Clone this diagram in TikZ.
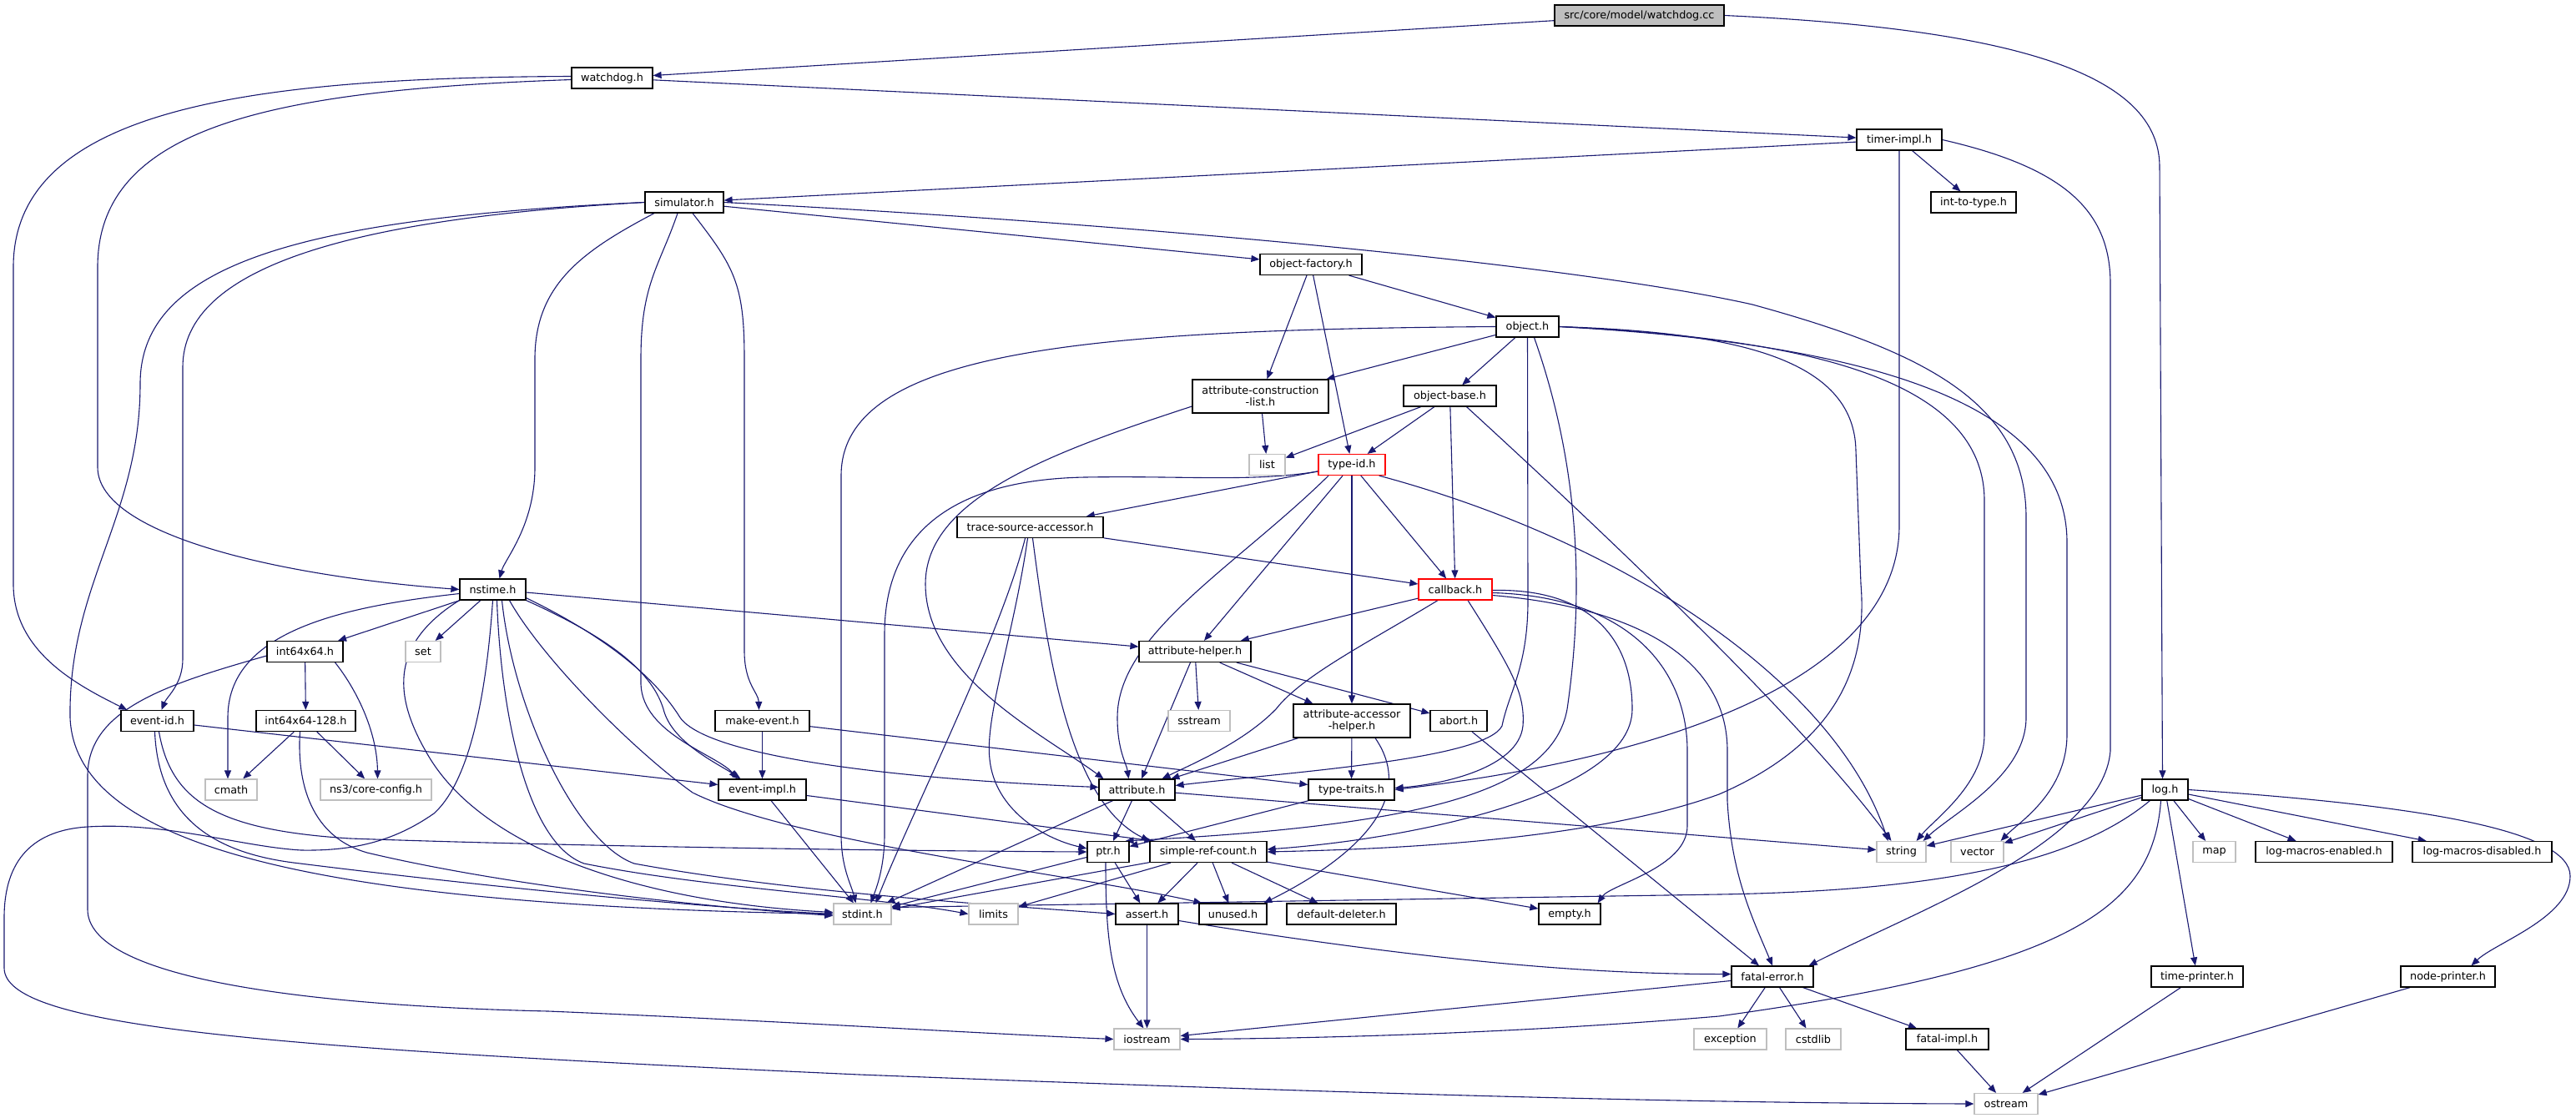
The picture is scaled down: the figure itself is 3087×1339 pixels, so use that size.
\documentclass[tikz,border=0pt]{standalone}
\usepackage{fontspec}
\setmainfont{DejaVu Sans}
\usetikzlibrary{arrows.meta}
\definecolor{edgec}{HTML}{191970}
\definecolor{grayb}{HTML}{BFBFBF}
\definecolor{rootf}{HTML}{BFBFBF}
\pgfdeclarelayer{bg}
\pgfdeclarelayer{paper}
\pgfsetlayers{paper,bg,main}
\tikzset{
 nb/.style={draw=black, line width=1.2pt, fill=white, rectangle, minimum height=25pt, inner xsep=2pt, inner ysep=0pt, font=\fontsize{12.8}{14}\selectfont, align=center},
 sysb/.style={nb, draw=grayb},
 redb/.style={nb, draw=red},
 rootb/.style={nb, fill=rootf},
 edg/.style={draw=edgec, line width=1.1pt, -{Triangle[length=10pt,width=8pt]}},
}
\begin{document}
\begin{tikzpicture}[x=1pt,y=-1pt]
\useasboundingbox (0,0) rectangle (3087,1339);
\begin{pgfonlayer}{paper}
\fill[white] (0,0) rectangle (3087,1339);
\end{pgfonlayer}
% nodes
\node[rootb, minimum width=203pt] (wcc) at (1964.5,18.5) {src/core/model/watchdog.cc};
\node[nb, minimum width=97pt] (wdh) at (733.5,93.5) {watchdog.h};
\node[nb, minimum width=102pt] (timer) at (2276,167.5) {timer-impl.h};
\node[nb, minimum width=102pt] (i2t) at (2365,242.5) {int-to-type.h};
\node[nb, minimum width=94pt] (sim) at (820,242.5) {simulator.h};
\node[nb, minimum width=122pt] (ofac) at (1571,317) {object-factory.h};
\node[nb, minimum width=75pt] (obj) at (1830.5,391.5) {object.h};
\node[nb, minimum width=163pt, minimum height=40pt] (acl) at (1510.5,475) {attribute-construction\\-list.h};
\node[nb, minimum width=111pt] (obase) at (1737.5,474.5) {object-base.h};
\node[sysb, minimum width=43pt] (list) at (1518.5,557) {list};
\node[redb, minimum width=80pt] (tid) at (1620,557) {type-id.h};
\node[nb, minimum width=175pt] (tsa) at (1234.5,632) {trace-source-accessor.h};
\node[nb, minimum width=79pt] (nst) at (590.5,706.5) {nstime.h};
\node[redb, minimum width=88pt] (cb) at (1744,706.5) {callback.h};
\node[nb, minimum width=91pt] (i64) at (365.5,781) {int64x64.h};
\node[sysb, minimum width=42pt] (set) at (507,781) {set};
\node[nb, minimum width=134pt] (ahelp) at (1432,781) {attribute-helper.h};
\node[nb, minimum width=87pt] (eid) at (188.5,864) {event-id.h};
\node[nb, minimum width=119pt] (i128) at (366.5,864) {int64x64-128.h};
\node[nb, minimum width=113pt] (mev) at (913.5,864) {make-event.h};
\node[sysb, minimum width=74pt] (sstr) at (1437,864) {sstream};
\node[nb, minimum width=140pt, minimum height=40pt] (aah) at (1620,864) {attribute-accessor\\-helper.h};
\node[nb, minimum width=68pt] (abrt) at (1748,864) {abort.h};
\node[sysb, minimum width=62pt] (cmath) at (277,946.5) {cmath};
\node[sysb, minimum width=133pt] (ccfg) at (450.5,946.5) {ns3/core-config.h};
\node[nb, minimum width=105pt] (eimp) at (913.5,946.5) {event-impl.h};
\node[nb, minimum width=91pt] (attr) at (1362.5,946.5) {attribute.h};
\node[nb, minimum width=103pt] (ttr) at (1619.5,946.5) {type-traits.h};
\node[nb, minimum width=55pt] (log) at (2594.5,946.5) {log.h};
\node[nb, minimum width=50pt] (ptr) at (1328,1021) {ptr.h};
\node[nb, minimum width=140pt] (src) at (1448,1021) {simple-ref-count.h};
\node[sysb, minimum width=59pt] (str) at (2278.5,1021) {string};
\node[sysb, minimum width=63pt] (vec) at (2369.5,1021) {vector};
\node[sysb, minimum width=51pt] (map) at (2653.5,1021) {map};
\node[nb, minimum width=164pt] (lme) at (2785,1021) {log-macros-enabled.h};
\node[nb, minimum width=167pt] (lmd) at (2974.5,1021) {log-macros-disabled.h};
\node[sysb, minimum width=69pt] (sint) at (1033.5,1095.5) {stdint.h};
\node[sysb, minimum width=59pt] (lim) at (1190.5,1095.5) {limits};
\node[nb, minimum width=75pt] (asrt) at (1374.5,1095.5) {assert.h};
\node[nb, minimum width=81pt] (unu) at (1477.5,1095.5) {unused.h};
\node[nb, minimum width=131pt] (ddel) at (1607.5,1095.5) {default-deleter.h};
\node[nb, minimum width=74pt] (emp) at (1881,1095.5) {empty.h};
\node[nb, minimum width=98pt] (ferr) at (2124,1170.5) {fatal-error.h};
\node[nb, minimum width=110pt] (tpr) at (2633,1170.5) {time-printer.h};
\node[nb, minimum width=113pt] (npr) at (2933.5,1170.5) {node-printer.h};
\node[sysb, minimum width=79pt] (ios) at (1374.5,1245.5) {iostream};
\node[sysb, minimum width=87pt] (exc) at (2073.5,1245.5) {exception};
\node[sysb, minimum width=66pt] (cstd) at (2173,1245.5) {cstdlib};
\node[nb, minimum width=99pt] (fimp) at (2333.5,1245.5) {fatal-impl.h};
\node[sysb, minimum width=76pt] (ost) at (2404,1323) {ostream};
% edges
\begin{pgfonlayer}{bg}
\draw[edg] (wcc) -- (wdh);
\draw[edg] (wcc.east) .. controls (2420,35) and (2588,90) .. (2588,200) -- ([xshift=-3pt]log.north);
\draw[edg] ([yshift=2pt]wdh.west) .. controls (300,93) and (16,130) .. (16,320) -- (16,700) .. controls (16,780) and (90,820) .. ([xshift=8pt]eid.north west);
\draw[edg] ([yshift=-2pt]wdh.west) .. controls (330,108) and (117,150) .. (117,320) -- (117,560) .. controls (117,640) and (330,690) .. (nst.west);
\draw[edg] (wdh) -- (timer);
\draw[edg] (timer) -- (sim);
\draw[edg] (timer) -- (i2t);
\draw[edg] (timer.south) -- (2276,630) .. controls (2276,790) and (2060,900) .. (ttr.east);
\draw[edg] (timer.east) .. controls (2470,200) and (2529,250) .. (2529,340) -- (2529,900) .. controls (2520,1010) and (2300,1090) .. ([xshift=-6pt]ferr.north east);
\draw[edg] (sim.west) .. controls (420,262) and (219,320) .. (219,440) -- (219,790) .. controls (219,820) and (200,835) .. ([xshift=5pt]eid.north);
\draw[edg] (sim.west) .. controls (350,262) and (168,320) .. (168,460) .. controls (168,620) and (82,700) .. (84,860) .. controls (90,1020) and (400,1085) .. (sint.west);
\draw[edg] ([xshift=-36pt]sim.south) .. controls (700,300) and (641,340) .. (641,430) -- (641,560) .. controls (641,630) and (605,670) .. ([xshift=8pt]nst.north);
\draw[edg] ([xshift=-8pt]sim.south) .. controls (790,320) and (768,340) .. (768,430) -- (768,820) .. controls (770,880) and (860,905) .. ([xshift=-30pt]eimp.north);
\draw[edg] ([xshift=10pt]sim.south) .. controls (880,320) and (892,340) .. (892,430) -- (892,780) .. controls (892,820) and (909,830) .. ([xshift=-4pt]mev.north);
\draw[edg] (sim) -- (ofac);
\draw[edg] (sim.east) .. controls (1400,270) and (1900,320) .. (2100,365) .. controls (2300,420) and (2428,480) .. (2428,620) -- (2428,860) .. controls (2428,930) and (2340,975) .. ([xshift=-4pt]str.north east);
\draw[edg] (ofac) -- (acl);
\draw[edg] (ofac) -- (tid);
\draw[edg] (ofac) -- (obj);
\draw[edg] (obj) -- (acl);
\draw[edg] (obj) -- (obase);
\draw[edg] (obj.west) .. controls (1300,395) and (1008,420) .. (1008,570) -- (1008,1000) .. controls (1008,1040) and (1020,1060) .. ([xshift=-8pt]sint.north);
\draw[edg] (obj.south) -- (1831,720) .. controls (1831,800) and (1808,830) .. (1800,870) .. controls (1780,910) and (1550,925) .. ([yshift=5pt]attr.east);
\draw[edg] ([xshift=8pt]obj.south) .. controls (1890,550) and (1900,700) .. (1878,850) .. controls (1860,950) and (1700,990) .. ([xshift=-5pt]ptr.north east);
\draw[edg] (obj.east) .. controls (2080,398) and (2222,430) .. (2224,540) -- (2230,700) .. controls (2240,820) and (2180,900) .. (2060,952) .. controls (1900,1010) and (1650,1018) .. (src.east);
\draw[edg] (obj.east) .. controls (2150,405) and (2378,450) .. (2378,600) -- (2378,880) .. controls (2378,940) and (2320,980) .. ([xshift=-12pt]str.north east);
\draw[edg] (obj.east) .. controls (2200,410) and (2477,470) .. (2477,650) -- (2477,880) .. controls (2477,950) and (2420,985) .. ([xshift=-4pt]vec.north east);
\draw[edg] (acl) -- (list);
\draw[edg] ([yshift=-12pt]acl.west) .. controls (1250,545) and (1109,600) .. (1109,700) .. controls (1109,810) and (1250,880) .. ([xshift=-40pt]attr.north);
\draw[edg] (obase) -- (list);
\draw[edg] (obase) -- (tid);
\draw[edg] (obase) -- (cb);
\draw[edg] ([xshift=20pt]obase.south) .. controls (1880,600) and (2150,850) .. ([xshift=-12pt]str.north);
\draw[edg] (tid) -- (tsa);
\draw[edg] ([yshift=-8pt]tid.west) .. controls (1500,578) and (1420,570) .. (1300,572) .. controls (1140,575) and (1060,640) .. (1060,760) -- (1060,1000) .. controls (1060,1040) and (1050,1065) .. ([xshift=10pt]sint.north);
\draw[edg] ([xshift=-28pt]tid.south) .. controls (1480,680) and (1339,760) .. (1339,860) .. controls (1339,900) and (1350,915) .. ([xshift=-10pt]attr.north);
\draw[edg] (tid) -- (ahelp);
\draw[edg] (tid) -- (aah);
\draw[edg] (tid) -- (cb);
\draw[edg] ([xshift=-8pt]tid.south east) .. controls (1950,650) and (2200,820) .. ([xshift=-16pt]str.north);
\draw[edg] (tsa) -- (cb);
\draw[edg] ([xshift=-3pt]tsa.south) .. controls (1215,760) and (1180,860) .. (1186,910) .. controls (1192,970) and (1250,1005) .. ([yshift=4pt]ptr.west);
\draw[edg] ([xshift=-6pt]tsa.south) .. controls (1200,760) and (1090,980) .. ([xshift=16pt]sint.north);
\draw[edg] ([xshift=3pt]tsa.south) .. controls (1255,780) and (1280,960) .. (src.north west);
\draw[edg] ([yshift=-5pt]nst.west) .. controls (400,728) and (273,760) .. (273,860) -- ([xshift=-4pt]cmath.north);
\draw[edg] (nst) -- (i64);
\draw[edg] (nst) -- (set);
\draw[edg] (nst.south) .. controls (585,800) and (570,930) .. (520,975) .. controls (470,1010) and (420,1020) .. (361,1019) .. controls (290,1015) and (200,985) .. (105,991) .. controls (40,995) and (5,1030) .. (5,1100) -- (5,1160) .. controls (5,1230) and (300,1255) .. (1030,1288) .. controls (1600,1310) and (2000,1322) .. (ost.west);
\draw[edg] (nst.south west) .. controls (470,770) and (470,830) .. (510,900) .. controls (570,1010) and (750,1080) .. ([yshift=2pt]sint.west);
\draw[edg] ([xshift=5pt]nst.south) .. controls (600,850) and (630,1010) .. (700,1035) .. controls (850,1065) and (1050,1075) .. (lim.west);
\draw[edg] ([xshift=11pt]nst.south) .. controls (615,850) and (690,1010) .. (760,1035) .. controls (950,1070) and (1200,1085) .. (asrt.west);
\draw[edg] ([xshift=20pt]nst.south) .. controls (650,790) and (760,900) .. (830,950) .. controls (950,1010) and (1300,1050) .. ([xshift=4pt]unu.north west);
\draw[edg] (nst) -- (ahelp);
\draw[edg] (nst.south east) .. controls (720,760) and (780,800) .. (795,850) .. controls (805,890) and (860,915) .. ([xshift=-26pt]eimp.north);
\draw[edg] ([yshift=3pt]nst.south east) .. controls (740,770) and (790,820) .. (815,860) .. controls (850,910) and (1100,935) .. ([yshift=3pt]attr.west);
\draw[edg] (i64) -- (i128);
\draw[edg] ([xshift=-10pt]i64.south east) .. controls (430,830) and (452,880) .. ([xshift=2pt]ccfg.north);
\draw[edg] ([yshift=-5pt]i64.west) .. controls (200,820) and (105,850) .. (105,930) -- (105,1090) .. controls (105,1170) and (350,1205) .. (657,1212) .. controls (900,1222) and (1200,1240) .. (ios.west);
\draw[edg] (i128) -- (cmath);
\draw[edg] (i128) -- (ccfg);
\draw[edg] ([xshift=-7pt]i128.south) .. controls (355,950) and (380,1005) .. (440,1022) .. controls (600,1060) and (820,1085) .. ([yshift=-2pt]sint.west);
\draw[edg] (eid) -- (eimp);
\draw[edg] ([xshift=2pt]eid.south) .. controls (205,960) and (260,995) .. (420,1005) .. controls (700,1015) and (1100,1020) .. (ptr.west);
\draw[edg] ([xshift=-3pt]eid.south) .. controls (190,990) and (270,1025) .. (360,1035) .. controls (600,1065) and (850,1088) .. (sint.west);
\draw[edg] (mev) -- (eimp);
\draw[edg] (mev) -- (ttr);
\draw[edg] (eimp) -- ([xshift=4pt]src.north west);
\draw[edg] (eimp) -- (sint);
\draw[edg] (ahelp) -- (attr);
\draw[edg] (ahelp) -- (sstr);
\draw[edg] (ahelp) -- (aah);
\draw[edg] (ahelp) -- (abrt);
\draw[edg] (aah) -- (attr);
\draw[edg] (aah) -- (ttr);
\draw[edg] ([xshift=28pt]aah.south) .. controls (1700,960) and (1620,1030) .. ([xshift=-4pt]unu.north east);
\draw[edg] (abrt) -- (ferr);
\draw[edg] (cb) -- (ahelp);
\draw[edg] ([xshift=-21pt]cb.south) .. controls (1640,770) and (1560,810) .. (1529,850) .. controls (1490,890) and (1430,915) .. ([xshift=30pt]attr.north);
\draw[edg] ([xshift=15pt]cb.south) .. controls (1810,800) and (1828,830) .. (1825,870) .. controls (1820,920) and (1730,940) .. ([yshift=2pt]ttr.east);
\draw[edg] ([yshift=-1pt]cb.east) .. controls (1900,705) and (1956,760) .. (1956,850) .. controls (1956,950) and (1700,1005) .. ([yshift=3pt]src.east);
\draw[edg] ([yshift=-4pt]cb.east) .. controls (1950,715) and (2022,800) .. (2022,900) -- (2022,990) .. controls (2022,1040) and (1930,1060) .. ([xshift=-4pt]emp.north east);
\draw[edg] ([yshift=-7pt]cb.east) .. controls (1980,730) and (2070,800) .. (2070,900) -- (2070,960) .. controls (2075,1050) and (2100,1100) .. (ferr.north);
\draw[edg] (attr) -- (ptr);
\draw[edg] (attr) -- (src);
\draw[edg] (attr) -- (sint);
\draw[edg] (attr) -- (str);
\draw[edg] (ttr) -- (ptr);
\draw[edg] (ptr) -- (sint);
\draw[edg] (ptr) -- (asrt);
\draw[edg] ([xshift=-3pt]ptr.south) .. controls (1325,1120) and (1330,1180) .. ([xshift=-4pt]ios.north);
\draw[edg] (src) -- (sint);
\draw[edg] (src) -- (lim);
\draw[edg] (src) -- (asrt);
\draw[edg] (src) -- (unu);
\draw[edg] (src) -- (ddel);
\draw[edg] (src) -- (emp);
\draw[edg] (asrt) -- (ios);
\draw[edg] ([yshift=-8pt]asrt.east) .. controls (1700,1150) and (1900,1168) .. ([yshift=3pt]ferr.west);
\draw[edg] (ferr) -- (ios);
\draw[edg] (ferr) -- (exc);
\draw[edg] (ferr) -- (cstd);
\draw[edg] (ferr) -- (fimp);
\draw[edg] (fimp) -- (ost);
\draw[edg] (tpr) -- (ost);
\draw[edg] (npr) -- (ost);
\draw[edg] (log) -- (str);
\draw[edg] (log) -- (vec);
\draw[edg] (log) -- (map);
\draw[edg] (log) -- (lme);
\draw[edg] (log) -- (lmd);
\draw[edg] (log) -- (tpr);
\draw[edg] ([xshift=10pt]log.south west) .. controls (2480,1040) and (2300,1068) .. (2060,1072) -- ([yshift=8pt]sint.east);
\draw[edg] (log.east) .. controls (2900,965) and (3080,995) .. (3080,1050) .. controls (3080,1100) and (2990,1130) .. ([xshift=28pt]npr.north);
\draw[edg] ([xshift=-5pt]log.south) .. controls (2580,1090) and (2480,1160) .. (2060,1218) .. controls (1800,1240) and (1550,1245) .. (ios.east);
\end{pgfonlayer}
\end{tikzpicture}
\end{document}
